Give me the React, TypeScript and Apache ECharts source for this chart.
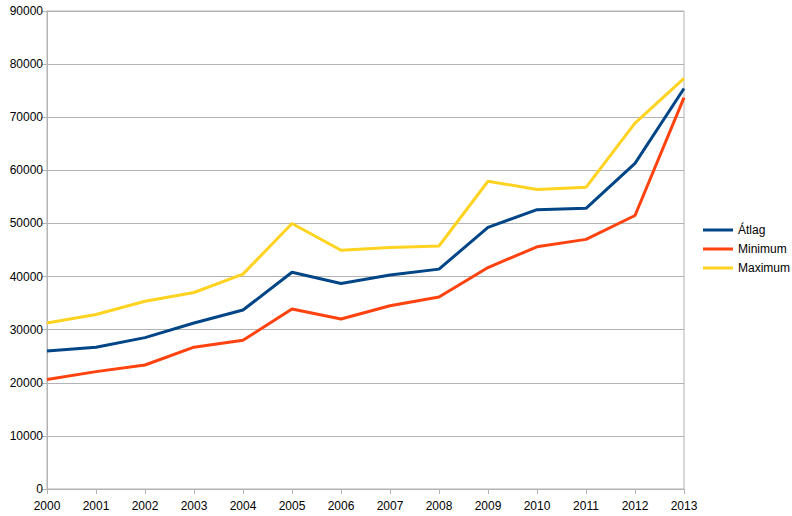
import React, { useEffect, useRef } from "react";
import * as echarts from "echarts";

const years = ["2000","2001","2002","2003","2004","2005","2006","2007","2008","2009","2010","2011","2012","2013"];
const atlag = [26000, 26700, 28500, 31250, 33700, 40800, 38700, 40300, 41400, 49250, 52600, 52850, 61300, 75400];
const minimum = [20600, 22100, 23350, 26700, 28000, 33900, 32000, 34500, 36150, 41700, 45600, 47000, 51500, 73700];
const maximum = [31250, 32850, 35350, 37000, 40450, 50000, 44950, 45450, 45750, 57950, 56400, 56800, 68900, 77300];
const yTicks = { min: 0, max: 90000, interval: 10000 };

export default function App() {
  const ref = useRef<HTMLDivElement>(null);
  useEffect(() => {
    const chart = echarts.init(ref.current!, null, { renderer: "svg" });
    const font = "'Liberation Sans', Arial, sans-serif";
    const mk = (name: string, data: number[], color: string) => ({
      name, type: "line", data, symbol: "none", showSymbol: false,
      lineStyle: { color, width: 3 }, itemStyle: { color },
    });
    chart.setOption({
      animation: false,
      backgroundColor: "#ffffff",
      textStyle: { fontFamily: font },
      grid: { left: 47, right: 108, top: 11, bottom: 27, show: true, borderColor: "#b3b3b3", borderWidth: 1 },
      legend: {
        orient: "vertical", left: 698, top: 218, itemWidth: 30, itemHeight: 3, itemGap: 5,
        icon: "rect",
        textStyle: { fontSize: 12, color: "#000", fontFamily: font, lineHeight: 14 },
        data: ["Átlag", "Minimum", "Maximum"],
      },
      xAxis: {
        type: "category", data: years, boundaryGap: false,
        axisLine: { lineStyle: { color: "#b3b3b3" } },
        axisTick: { show: true, length: 5, lineStyle: { color: "#b3b3b3" } },
        axisLabel: { color: "#000", fontSize: 12, fontFamily: font, margin: 11 },
        splitLine: { show: false },
      },
      yAxis: {
        type: "value", min: yTicks.min, max: yTicks.max, interval: yTicks.interval,
        axisLine: { show: true, lineStyle: { color: "#b3b3b3" } },
        axisTick: { show: true, length: 5, lineStyle: { color: "#b3b3b3" } },
        axisLabel: { color: "#000", fontSize: 12, fontFamily: font, margin: 4, formatter: (v: number) => String(v) },
        splitLine: { show: true, lineStyle: { color: "#b3b3b3", width: 1 } },
      },
      series: [
        mk("Átlag", atlag, "#004586"),
        mk("Minimum", minimum, "#ff420e"),
        mk("Maximum", maximum, "#ffd320"),
      ],
    });
    return () => chart.dispose();
  }, []);
  return <div ref={ref} style={{ width: 792, height: 516, position: "absolute", left: 0, top: 0 }} />;
}
